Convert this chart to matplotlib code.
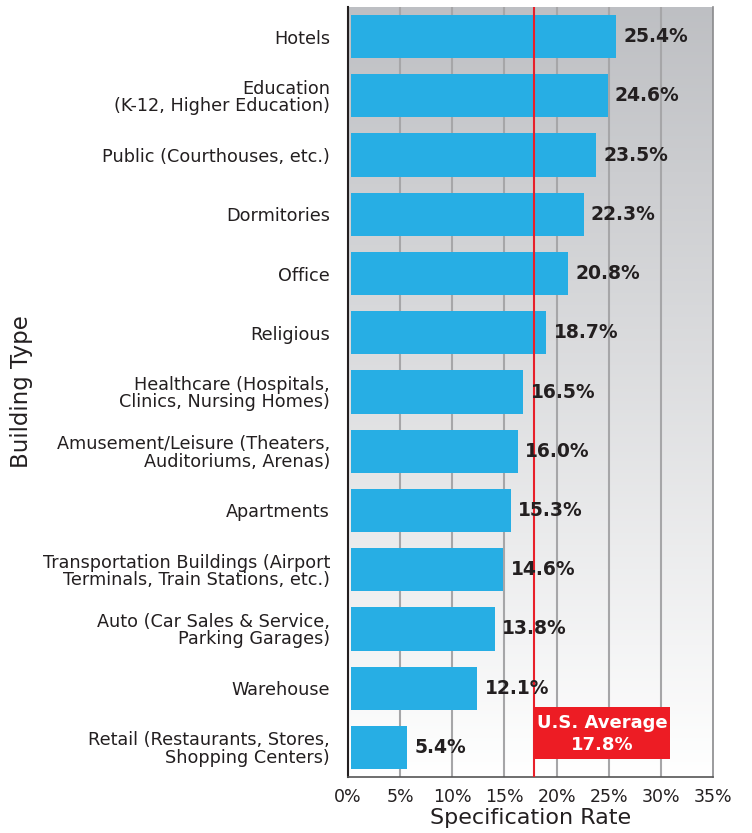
import matplotlib.pyplot as plt
import numpy as np

# data (top to bottom)
building_types = [
    "Hotels",
    "Education\n(K-12, Higher Education)",
    "Public (Courthouses, etc.)",
    "Dormitories",
    "Office",
    "Religious",
    "Healthcare (Hospitals,\nClinics, Nursing Homes)",
    "Amusement/Leisure (Theaters,\nAuditoriums, Arenas)",
    "Apartments",
    "Transportation Buildings (Airport\nTerminals, Train Stations, etc.)",
    "Auto (Car Sales & Service,\nParking Garages)",
    "Warehouse",
    "Retail (Restaurants, Stores,\nShopping Centers)",
]
spec_rate = [25.4, 24.6, 23.5, 22.3, 20.8, 18.7, 16.5, 16.0, 15.3, 14.6, 13.8, 12.1, 5.4]
us_average = 17.8
x_ticks = [0, 5, 10, 15, 20, 25, 30, 35]

plt.rcParams['font.family'] = ['DejaVu Sans']

fig = plt.figure(figsize=(7.52, 8.33), dpi=100)
ax = fig.add_axes([348 / 752, 1 - 777 / 833, (713 - 348) / 752, 770 / 833])

n = len(building_types)
ypos = np.arange(n)

# gradient background: grey at top fading to white at bottom
grad = np.linspace(0, 1, 256).reshape(-1, 1)
top = np.array([0.745, 0.75, 0.765])
bottom = np.array([1.0, 1.0, 1.0])
img = top + (bottom - top) * grad[..., None] * np.ones((1, 2, 1))
ax.imshow(img, extent=[0, 35, n - 0.5, -0.5], aspect='auto', zorder=0)

for xt in x_ticks[1:-1]:
    ax.axvline(xt, color='#a6a6a8', linewidth=1.5, zorder=1)

ax.barh(ypos, spec_rate, height=0.73, left=0.3, color='#27aee4', zorder=2)

for y, v in zip(ypos, spec_rate):
    ax.text(v + 1.0, y, f"{v:.1f}%", va='center', ha='left',
            fontsize=13.5, fontweight='bold', color='#231f20', zorder=4)

ax.axvline(us_average, color='#e8202a', linewidth=1.5, zorder=3)
ax.add_patch(plt.Rectangle((us_average, 11.32), 30.9 - us_average, 0.88,
                           facecolor='#ed1c24', edgecolor='none', zorder=3))
ax.text((us_average + 30.9) / 2, 11.77, f"U.S. Average\n{us_average}%",
        ha='center', va='center', color='white', fontsize=13,
        fontweight='bold', linespacing=1.3, zorder=4)

ax.set_xlim(0, 35)
ax.set_ylim(n - 0.5, -0.5)
ax.set_xticks(x_ticks)
ax.set_xticklabels([f"{t}%" for t in x_ticks], fontsize=12.5, color='#231f20')
ax.set_yticks(ypos)
ax.set_yticklabels(building_types, fontsize=12.7, color='#231f20', linespacing=0.95)
ax.tick_params(axis='y', length=0, pad=13)
ax.tick_params(axis='x', length=0, pad=8)

ax.set_xlabel("Specification Rate", fontsize=16, color='#231f20', labelpad=1)
ax.set_ylabel("Building Type", fontsize=16.5, color='#231f20')
ax.yaxis.set_label_coords(-0.862, 0.5)

ax.spines['left'].set_color('#231f20')
ax.spines['left'].set_linewidth(1.5)
ax.spines['bottom'].set_color('#555555')
ax.spines['bottom'].set_linewidth(1.2)
ax.spines['right'].set_color('#8a8a8c')
ax.spines['right'].set_linewidth(1.2)
ax.spines['top'].set_visible(False)

fig.savefig("out.png", dpi=100)
